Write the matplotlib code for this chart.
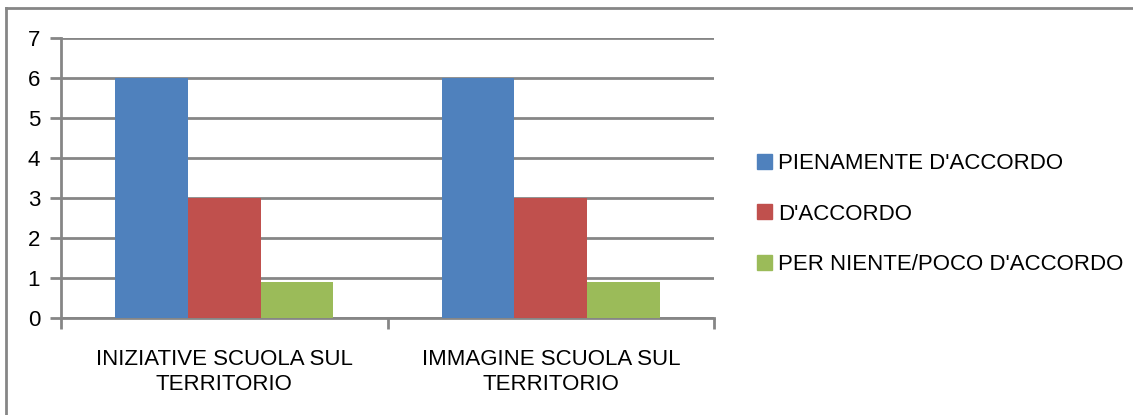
import numpy as np
import matplotlib.pyplot as plt
from matplotlib.lines import Line2D

categories = ['INIZIATIVE SCUOLA SUL\nTERRITORIO', 'IMMAGINE SCUOLA SUL\nTERRITORIO']
series_names = ["PIENAMENTE D'ACCORDO", "D'ACCORDO", "PER NIENTE/POCO D'ACCORDO"]
pienamente = [6, 6]
accordo = [3, 3]
per_niente = [0.9, 0.9]
colors = ['#4F81BD', '#C0504D', '#9BBB59']

plt.rcParams['font.family'] = ['Liberation Sans', 'DejaVu Sans']

fig = plt.figure(figsize=(11.33, 4.15), dpi=100)
# plot area in pixels: x 61..714, y 38..318
ax = fig.add_axes([61/1133, 1 - 318/415, (714-61)/1133, (318-38)/415])

x = np.arange(len(categories))
w = 1 / 4.5
for i, (vals, name) in enumerate(zip([pienamente, accordo, per_niente], series_names)):
    ax.bar(x + (i - 1) * w, vals, w, color=colors[i], label=name, zorder=3)

ax.set_xlim(-0.5, len(categories) - 0.5)
ax.set_ylim(0, 7)
ax.set_yticks(range(8))
ax.yaxis.grid(True, color='#868686', linewidth=2, zorder=0)
ax.set_axisbelow(True)
for s in ['top', 'right']:
    ax.spines[s].set_visible(False)
for s in ['left', 'bottom']:
    ax.spines[s].set_color('#868686')
    ax.spines[s].set_linewidth(2)
ax.tick_params(axis='y', length=8, width=2, color='#868686', labelsize=16, pad=7)
ax.set_xticks([-0.5, 0.5, 1.5])
ax.set_xticklabels([])
ax.tick_params(axis='x', length=8, width=2, color='#868686')
ax.set_xticks(x, minor=True)
ax.set_xticklabels(categories, minor=True, fontsize=16, linespacing=1.3)
ax.tick_params(axis='x', which='minor', length=0, pad=22)

handles = [plt.Rectangle((0, 0), 1, 1, color=c) for c in colors]
fig.legend(handles, series_names, loc='center left', bbox_to_anchor=(737/1133, 1 - 214/415),
           frameon=False, fontsize=16, handlelength=0.68, handleheight=0.68,
           handletextpad=0.25, labelspacing=1.33)

# outer chart border
fig.add_artist(Line2D([6/1133, 1], [1 - 8/415, 1 - 8/415], color='#868686', linewidth=2))
fig.add_artist(Line2D([6/1133, 6/1133], [0, 1 - 8/415], color='#868686', linewidth=2))

fig.savefig('out.png', dpi=100)
